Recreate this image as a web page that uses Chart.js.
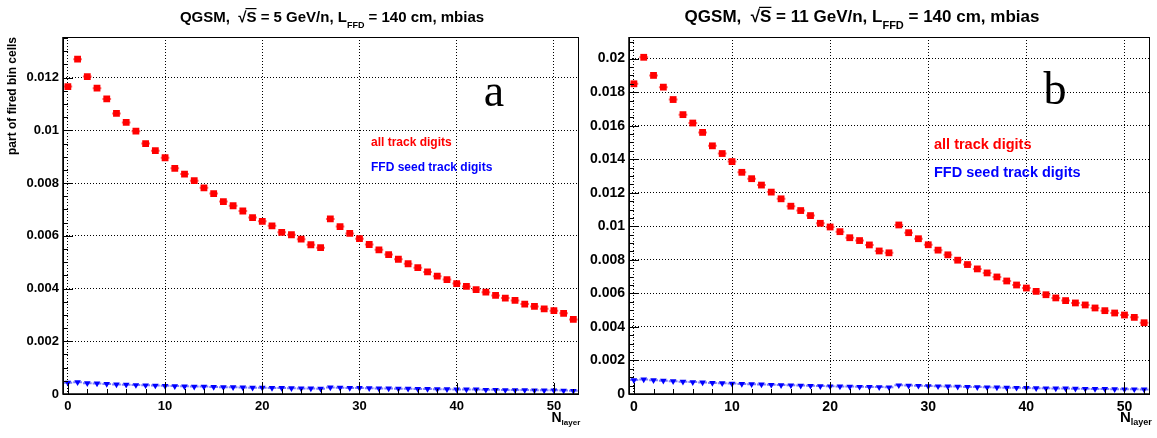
<!DOCTYPE html>
<html>
<head>
<meta charset="utf-8">
<script src="https://cdn.jsdelivr.net/npm/chart.js@4.4.1/dist/chart.umd.min.js"></script>
<style>
  body { margin: 0; background: #fff; }
  .pad { position: absolute; top: 0; height: 438px; }
  #padA { left: 0; width: 583px; }
  #padB { left: 583px; width: 574px; }
</style>
</head>
<body>
<div class="pad" id="padA"><canvas id="chartA"></canvas></div>
<div class="pad" id="padB"><canvas id="chartB"></canvas></div>
<script>
// layer index (x) and per-layer fraction of fired bin cells
const nLayer = [0,1,2,3,4,5,6,7,8,9,10,11,12,13,14,15,16,17,18,19,20,21,22,23,24,25,26,
                27,28,29,30,31,32,33,34,35,36,37,38,39,40,41,42,43,44,45,46,47,48,49,50,51,52];

// sqrt(s) = 5 GeV/n
const allDigits5 = [0.01166,0.0127,0.01204,0.0116,0.01119,0.01064,0.0103,0.00997,0.0095,0.00923,
  0.00896,0.00856,0.00834,0.00809,0.00782,0.0076,0.0073,0.00714,0.00694,0.00669,0.00655,0.00638,
  0.00613,0.00604,0.00587,0.00566,0.00555,0.00664,0.00635,0.00609,0.00589,0.00567,0.00547,0.00529,
  0.00511,0.00494,0.00479,0.00463,0.00447,0.00434,0.00419,0.00408,0.00396,0.00386,0.00374,0.00364,
  0.00355,0.00341,0.00332,0.00323,0.00316,0.00306,0.00283];
const ffdDigits5 = [0.00043,0.00045,0.00041,0.0004,0.00038,0.00036,0.00035,0.00034,0.00033,0.00032,
  0.00031,0.0003,0.00029,0.00028,0.00028,0.00027,0.00026,0.00026,0.00025,0.00024,0.00024,0.00023,
  0.00023,0.00022,0.00021,0.00021,0.0002,0.00025,0.00024,0.00023,0.00023,0.00022,0.00021,0.00021,
  0.0002,0.0002,0.00019,0.00019,0.00018,0.00018,0.00017,0.00017,0.00017,0.00016,0.00016,0.00015,
  0.00015,0.00015,0.00014,0.00014,0.00014,0.00013,0.00012];

// sqrt(s) = 11 GeV/n
const allDigits11 = [0.0185,0.02008,0.019,0.0183,0.01756,0.01666,0.01616,0.0156,0.0148,0.01434,
  0.01386,0.01322,0.01284,0.01246,0.01204,0.01164,0.0112,0.01094,0.01064,0.01018,0.00996,0.00968,
  0.00932,0.00915,0.00889,0.00853,0.00842,0.01008,0.00962,0.00926,0.0089,0.00858,0.0083,0.00798,
  0.00772,0.00746,0.00722,0.00698,0.00674,0.0065,0.00632,0.00612,0.00592,0.00573,0.00557,0.00543,
  0.00531,0.00513,0.00497,0.00483,0.00471,0.00457,0.00425];
const ffdDigits11 = [0.00083,0.00087,0.00082,0.00079,0.00076,0.00073,0.00071,0.00069,0.00066,0.00064,
  0.00062,0.0006,0.00058,0.00057,0.00055,0.00053,0.00052,0.0005,0.00049,0.00047,0.00046,0.00045,
  0.00044,0.00043,0.00042,0.00041,0.0004,0.00052,0.0005,0.00049,0.00047,0.00046,0.00045,0.00044,
  0.00042,0.00041,0.0004,0.00039,0.00038,0.00037,0.00036,0.00035,0.00034,0.00033,0.00033,0.00032,
  0.00031,0.0003,0.0003,0.00029,0.00028,0.00028,0.00027];

const xTicks = [0, 10, 20, 30, 40, 50];
const yTicks5 = [0, 0.002, 0.004, 0.006, 0.008, 0.01, 0.012];
const yTicks11 = [0, 0.002, 0.004, 0.006, 0.008, 0.01, 0.012, 0.014, 0.016, 0.018, 0.02];
const legendLabels = ["all track digits", "FFD seed track digits"];

const SANS = "'Liberation Sans', Arial, Helvetica, sans-serif";
const SERIF = "'Liberation Serif', 'Times New Roman', serif";

function toPoints(arr) {
  return nLayer.map((x, i) => ({ x: x, y: arr[i] }));
}

// horizontal bin-width error bars, under the markers
const binBars = {
  id: 'binBars',
  beforeDatasetsDraw(chart) {
    const ctx = chart.ctx;
    const xs = chart.scales.x;
    ctx.save();
    chart.data.datasets.forEach((ds, di) => {
      const meta = chart.getDatasetMeta(di);
      ctx.strokeStyle = ds.barColor;
      ctx.lineWidth = 2;
      ctx.beginPath();
      meta.data.forEach((el, i) => {
        const x = ds.data[i].x;
        ctx.moveTo(xs.getPixelForValue(x - 0.5) + 0.5, el.y);
        ctx.lineTo(xs.getPixelForValue(x + 0.5) - 0.5, el.y);
      });
      ctx.stroke();
    });
    ctx.restore();
  }
};

// frame, inside ticks and the text bits ROOT puts on the pad
const rootPad = {
  id: 'rootPad',
  afterDraw(chart, args, o) {
    const ctx = chart.ctx;
    const { left, right, top, bottom } = chart.chartArea;
    const xs = chart.scales.x, ys = chart.scales.y;
    const dx = o.offsetX;
    ctx.save();

    // ticks
    ctx.strokeStyle = '#000';
    ctx.lineWidth = 1;
    ctx.beginPath();
    for (let v = 0; v <= 52; v += 2) {
      const px = Math.round(xs.getPixelForValue(v)) + 0.5;
      const len = v % 10 === 0 ? 11 : 5;
      ctx.moveTo(px, bottom);
      ctx.lineTo(px, bottom - len);
    }
    for (let k = 0; k * 0.0005 <= ys.max; k++) {
      const py = Math.round(ys.getPixelForValue(k * 0.0005)) + 0.5;
      const len = k % 4 === 0 ? 10 : 5;
      ctx.moveTo(left, py);
      ctx.lineTo(left + len, py);
    }
    ctx.stroke();

    // frame
    ctx.lineWidth = 1;
    ctx.strokeRect(Math.round(left) + 0.5, Math.round(top) + 0.5,
                   Math.round(right - left), Math.round(bottom - top));
    ctx.lineWidth = 1.5;
    ctx.beginPath();
    ctx.moveTo(left, top); ctx.lineTo(left, bottom); ctx.lineTo(right, bottom);
    ctx.stroke();

    ctx.fillStyle = '#000';
    ctx.textBaseline = 'alphabetic';

    // title with sqrt(s) and subscript
    const ts = o.titleSize;
    const big = 'bold ' + ts + 'px ' + SANS;
    const small = 'bold ' + Math.round(ts * 0.62) + 'px ' + SANS;
    const parts = [
      { t: 'QGSM,  ', f: big, dy: 0 },
      { t: '\u221A', f: big, dy: 0 },
      { t: 'S', f: big, dy: 0, over: true },
      { t: ' = ' + o.energy + ' GeV/n, L', f: big, dy: 0 },
      { t: 'FFD', f: small, dy: ts * 0.42 },
      { t: ' = 140 cm, mbias', f: big, dy: 0 }
    ];
    let total = 0;
    parts.forEach(p => { ctx.font = p.f; p.w = ctx.measureText(p.t).width; total += p.w; });
    let tx = o.titleX - dx - total / 2;
    const tb = o.titleY;
    ctx.textAlign = 'left';
    parts.forEach(p => {
      ctx.font = p.f;
      ctx.fillText(p.t, tx, tb + p.dy);
      if (p.over) {
        ctx.lineWidth = 1.2;
        ctx.beginPath();
        ctx.moveTo(tx - 1, tb - ts * 0.86);
        ctx.lineTo(tx + p.w, tb - ts * 0.86);
        ctx.stroke();
      }
      tx += p.w;
    });

    // legend text
    ctx.font = 'bold ' + o.legSize + 'px ' + SANS;
    ctx.textBaseline = 'middle';
    ctx.fillStyle = '#ff0000';
    ctx.fillText(legendLabels[0], o.legX - dx, o.legY[0]);
    ctx.fillStyle = '#0000ff';
    ctx.fillText(legendLabels[1], o.legX - dx, o.legY[1]);

    // panel letter
    ctx.fillStyle = '#000';
    ctx.textBaseline = 'alphabetic';
    ctx.textAlign = 'center';
    ctx.font = '46px ' + SERIF;
    ctx.fillText(o.letter, o.letterX - dx, o.letterY);

    // N_layer
    ctx.textAlign = 'left';
    ctx.font = 'bold ' + o.nSize + 'px ' + SANS;
    ctx.fillText('N', o.nX - dx, o.nY);
    const nw = ctx.measureText('N').width;
    ctx.font = 'bold ' + Math.round(o.nSize * 0.6) + 'px ' + SANS;
    ctx.fillText('layer', o.nX - dx + nw, o.nY + 3.5);

    ctx.restore();
  }
};

function makePad(canvasId, cfg) {
  return new Chart(document.getElementById(canvasId), {
    type: 'scatter',
    data: {
      datasets: [
        {
          data: toPoints(cfg.all),
          backgroundColor: '#ff0000',
          borderColor: '#ff0000',
          borderWidth: 0,
          pointStyle: 'rect',
          pointRadius: 4.8,
          barColor: '#ff7070'
        },
        {
          data: toPoints(cfg.ffd),
          backgroundColor: '#0000ff',
          borderColor: '#0000ff',
          borderWidth: 0,
          pointStyle: 'triangle',
          rotation: 180,
          pointRadius: 3.8,
          barColor: '#7a7aff'
        }
      ]
    },
    options: {
      responsive: true,
      maintainAspectRatio: false,
      animation: false,
      events: [],
      layout: { padding: { top: 37, right: cfg.padRight, left: 0, bottom: 0 } },
      plugins: {
        legend: { display: false },
        tooltip: { enabled: false },
        rootPad: cfg.pad
      },
      scales: {
        x: {
          type: 'linear',
          min: -0.5,
          max: 52.5,
          afterBuildTicks: s => { s.ticks = xTicks.map(v => ({ value: v })); },
          afterFit: s => { s.height = 44; },
          grid: { color: '#000', lineWidth: 1, drawTicks: false },
          border: { display: false, dash: [1, 2] },
          ticks: {
            color: '#000',
            padding: 5,
            autoSkip: false,
            maxRotation: 0,
            font: { family: SANS, size: cfg.tickSize, weight: 'bold' },
            callback: v => String(v)
          }
        },
        y: {
          min: 0,
          max: cfg.yMax,
          afterBuildTicks: s => { s.ticks = cfg.yTicks.map(v => ({ value: v })); },
          afterFit: s => { s.width = cfg.yWidth; },
          grid: { color: '#000', lineWidth: 1, drawTicks: false },
          border: { display: false, dash: [1, 2] },
          ticks: {
            color: '#000',
            padding: 4,
            font: { family: SANS, size: cfg.tickSize, weight: 'bold' },
            callback: v => String(+v.toFixed(3))
          },
          title: {
            display: !!cfg.yTitle,
            text: cfg.yTitle || '',
            align: 'end',
            color: '#000',
            font: { family: SANS, size: 12, weight: 'bold' },
            padding: { top: 5, bottom: 0 }
          }
        }
      }
    },
    plugins: [binBars, rootPad]
  });
}

makePad('chartA', {
  all: allDigits5, ffd: ffdDigits5,
  yMax: 0.01354, yTicks: yTicks5, yWidth: 63, padRight: 2, tickSize: 13,
  yTitle: 'part of fired bin cells',
  pad: {
    offsetX: 0, energy: '5', titleX: 332, titleY: 21.5, titleSize: 15,
    legX: 371, legY: [143, 168], legSize: 12,
    letter: 'a', letterX: 494, letterY: 106,
    nX: 551.5, nY: 421.5, nSize: 14
  }
});

makePad('chartB', {
  all: allDigits11, ffd: ffdDigits11,
  yMax: 0.02129, yTicks: yTicks11, yWidth: 46, padRight: 8, tickSize: 14,
  yTitle: null,
  pad: {
    offsetX: 583, energy: '11', titleX: 862, titleY: 22, titleSize: 17,
    legX: 934, legY: [145, 173], legSize: 14.5,
    letter: 'b', letterX: 1055, letterY: 104,
    nX: 1120, nY: 421.5, nSize: 15
  }
});
</script>
</body>
</html>
